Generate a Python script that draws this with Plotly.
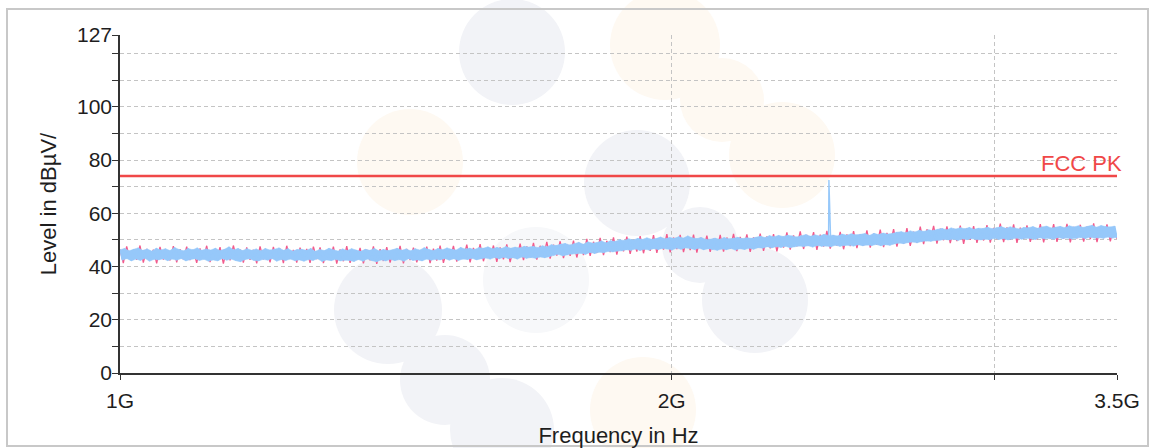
import numpy as np
import plotly.graph_objects as go

# ---------------- data ----------------
f_start, f_stop = 1e9, 3.5e9

# blue trace (dense sweep, levels in dBuV/m)
blue_levels = [
    46.3, 42.4, 46.8, 43.0, 45.9, 42.1, 46.5, 42.8, 47.0, 42.3, 46.1, 43.1, 46.6, 42.0, 45.8, 42.7, 46.9, 42.5, 46.2, 42.9,
    46.7, 42.2, 46.0, 42.8, 47.2, 42.4, 46.4, 43.0, 45.9, 42.1, 46.8, 42.6, 46.3, 42.9, 47.0, 42.3, 46.1, 42.7, 46.6, 42.0,
    46.2, 42.5, 46.9, 42.1, 46.0, 43.0, 46.5, 42.4, 47.4, 42.8, 46.3, 42.2, 46.8, 41.8, 46.0, 42.6, 46.7, 42.9, 46.1, 42.3,
    46.6, 42.1, 45.9, 42.7, 46.8, 42.4, 46.2, 43.0, 46.5, 42.0, 47.0, 42.6, 46.1, 42.3, 46.7, 42.8, 45.8, 42.2, 46.4, 42.5,
    46.5, 42.0, 46.1, 42.6, 46.8, 42.3, 45.7, 42.9, 46.4, 41.9, 46.0, 42.5, 46.9, 42.2, 46.3, 42.7, 45.8, 42.1, 46.6, 42.4,
    46.0, 42.3, 46.7, 41.9, 46.2, 42.6, 45.7, 42.0, 46.5, 42.8, 46.1, 42.2, 46.8, 41.8, 45.9, 42.5, 46.4, 42.1, 46.0, 42.7,
    46.3, 42.2, 46.9, 42.6, 46.1, 42.0, 46.6, 42.9, 45.9, 42.3, 46.7, 42.5, 46.2, 42.1, 47.1, 42.8, 46.4, 42.4, 46.0, 42.7,
    46.8, 42.5, 46.3, 43.0, 47.0, 42.4, 46.5, 42.9, 46.2, 42.3, 47.2, 42.8, 46.6, 42.6, 46.9, 43.1, 46.4, 42.5, 47.1, 42.9,
    46.9, 43.2, 47.4, 42.8, 46.7, 43.4, 47.2, 42.9, 46.8, 43.5, 47.5, 43.0, 46.9, 43.3, 47.3, 42.8, 47.0, 43.6, 47.6, 43.1,
    47.3, 43.4, 47.6, 43.1, 47.1, 43.6, 47.8, 43.3, 47.4, 43.7, 48.2, 44.2, 47.9, 44.6, 48.4, 44.0, 48.7, 44.4, 48.1, 44.7,
    48.6, 44.8, 49.1, 45.0, 48.4, 44.6, 49.3, 45.3, 48.8, 44.9, 49.0, 45.4, 49.6, 45.2, 48.9, 45.7, 49.7, 45.5, 49.4, 45.8,
    50.1, 45.9, 49.8, 46.3, 50.4, 46.1, 50.0, 46.6, 50.6, 46.0, 50.2, 46.5, 50.8, 46.2, 50.3, 46.7, 50.5, 46.4, 51.1, 46.8,
    50.4, 46.6, 50.9, 46.2, 50.6, 46.9, 51.2, 46.5, 50.7, 47.0, 51.5, 46.8, 50.8, 46.4, 50.5, 46.9, 50.9, 46.3, 50.2, 46.7,
    50.3, 46.4, 50.7, 46.1, 50.2, 46.6, 50.9, 46.3, 50.4, 46.8, 50.6, 46.2, 51.0, 46.7, 50.5, 46.4, 50.8, 46.9, 50.6, 46.5,
    51.0, 47.1, 51.4, 46.9, 50.9, 47.4, 51.6, 47.0, 51.2, 47.5, 51.7, 47.2, 51.3, 47.6, 51.8, 47.1, 51.5, 47.4, 51.1, 47.7,
    51.6, 47.5, 52.0, 47.8, 51.4, 47.3, 51.9, 47.9, 51.5, 47.6, 52.1, 47.7, 51.7, 47.4, 51.8, 48.0, 51.5, 47.6, 52.2, 47.9,
    51.8, 48.0, 52.3, 47.7, 51.9, 48.2, 52.1, 47.8, 52.4, 48.1, 51.7, 47.9, 52.5, 48.3, 52.0, 47.8, 52.6, 48.2, 52.2, 48.0,
    52.4, 48.5, 52.9, 48.8, 53.1, 48.6, 52.7, 49.0, 53.4, 49.2, 53.0, 48.9, 53.6, 49.4, 53.2, 49.6, 53.8, 49.5, 53.5, 49.8,
    54.0, 49.9, 54.3, 50.2, 53.8, 50.0, 54.5, 50.3, 54.1, 49.8, 54.6, 50.4, 54.2, 50.1, 54.7, 50.5, 54.0, 50.2, 54.4, 50.0,
    54.3, 50.3, 54.8, 50.1, 54.2, 50.6, 54.6, 50.2, 55.0, 50.5, 54.4, 50.0, 54.9, 50.4, 54.5, 50.7, 54.1, 50.3, 54.7, 50.6,
    54.6, 50.5, 55.0, 50.2, 54.4, 50.8, 54.9, 50.4, 55.2, 50.6, 54.5, 50.3, 54.8, 50.9, 55.1, 50.5, 54.6, 50.7, 55.3, 50.4,
    54.9, 50.6, 55.3, 50.9, 54.7, 50.5, 55.1, 51.0, 55.5, 50.7, 54.8, 50.8, 55.4, 50.6, 55.0, 51.1, 54.9, 50.7, 55.2, 50.9,
]

# pink trace (peak detector, shows at the edges of the blue band)
pink_levels = [
    46.4, 41.3, 47.6, 42.8, 46.1, 42.5, 47.9, 41.5, 46.6, 42.9, 46.3, 41.2, 47.4, 42.6, 46.0, 42.3, 47.7, 41.6, 46.5, 42.7,
    47.5, 42.4, 46.2, 41.4, 46.8, 42.9, 47.8, 41.7, 46.1, 42.6, 47.3, 41.1, 46.5, 42.3, 47.9, 42.8, 46.4, 41.5, 47.2, 42.5,
    46.3, 41.2, 47.6, 42.7, 46.0, 41.6, 47.4, 42.4, 46.7, 41.3, 47.8, 42.9, 46.2, 41.5, 47.1, 42.2, 46.6, 41.4, 47.5, 42.8,
    47.2, 41.3, 46.1, 42.5, 47.5, 41.1, 46.4, 42.0, 47.7, 41.4, 45.9, 42.6, 47.0, 41.2, 46.3, 42.3, 47.6, 41.0, 46.5, 42.1,
    47.3, 41.5, 46.2, 42.6, 47.8, 41.2, 46.6, 42.4, 47.1, 41.6, 46.0, 42.8, 47.5, 41.3, 46.7, 42.2, 47.9, 41.4, 46.3, 42.7,
    47.8, 41.9, 46.7, 43.1, 48.2, 41.6, 47.0, 42.8, 48.4, 42.0, 46.8, 43.2, 47.9, 41.8, 47.2, 42.7, 48.3, 41.7, 46.9, 43.0,
    48.6, 42.4, 47.6, 43.5, 48.9, 42.6, 47.8, 43.8, 49.3, 43.0, 48.2, 44.1, 49.5, 43.2, 48.3, 44.0, 49.7, 43.4, 48.5, 44.3,
    50.4, 44.0, 49.3, 45.1, 50.8, 44.3, 49.6, 45.4, 51.0, 44.5, 49.8, 45.7, 51.2, 44.8, 50.0, 45.6, 51.4, 45.0, 50.3, 45.9,
    51.8, 45.1, 50.6, 46.4, 52.2, 45.3, 50.9, 46.6, 51.9, 45.4, 50.7, 46.2, 52.0, 45.2, 50.8, 46.5, 51.6, 45.5, 50.5, 46.3,
    51.9, 45.6, 50.9, 46.7, 52.3, 45.8, 51.1, 46.9, 52.1, 45.5, 51.0, 47.0, 52.4, 45.9, 51.3, 46.8, 52.2, 45.7, 51.2, 47.1,
    52.8, 46.4, 51.7, 47.6, 53.2, 46.6, 51.9, 47.8, 52.9, 46.3, 52.0, 47.5, 53.4, 46.7, 51.8, 47.9, 53.0, 46.5, 52.1, 47.7,
    53.3, 46.9, 52.2, 48.0, 53.6, 47.1, 52.4, 48.2, 53.9, 47.3, 52.6, 48.4, 54.1, 47.5, 52.9, 48.6, 54.4, 47.8, 53.1, 48.9,
    55.0, 48.4, 54.0, 49.7, 55.3, 48.6, 54.2, 49.9, 55.1, 48.8, 54.1, 49.6, 55.4, 48.5, 54.3, 50.0, 55.2, 48.9, 54.0, 49.8,
    55.6, 49.0, 54.5, 50.3, 56.1, 49.2, 54.7, 50.1, 55.8, 48.9, 54.6, 50.4, 55.5, 49.3, 54.8, 50.2, 55.9, 49.1, 54.6, 50.5,
    55.9, 49.3, 54.8, 50.5, 56.0, 49.1, 54.9, 50.6, 55.7, 49.4, 55.0, 50.3, 56.2, 49.2, 54.7, 50.7, 55.8, 49.5, 54.9, 50.4,
]

spike_freq = [2.437e9]
spike_level = [72.5]

limit_freq = [1e9, 3.5e9]
limit_level = [74, 74]
limit_name = "FCC PK"

x_tick_vals = [1e9, 2e9, 3e9, 3.5e9]
x_tick_text = ["1G", "2G", "", "3.5G"]
y_tick_vals = [0, 10, 20, 30, 40, 50, 60, 70, 80, 90, 100, 110, 120, 127]
y_tick_text = ["0", "", "20", "", "40", "", "60", "", "80", "", "100", "", "", "127"]

# ---------------- styling ----------------
BLUE = "#96c8fa"
PINK = "#f25a8c"
RED = "#f04848"
GRID = "#c4c4c4"
AXIS = "#333333"
TXT = "#1e1e1e"
FONT = "Liberation Sans, Arial, sans-serif"

# plot area in pixels (for decorative watermark placement)
L, R, T, B = 120, 1117, 35, 373


def paper(px, py):
    return (px - L) / (R - L), (B - py) / (B - T)


blue_freq = np.geomspace(f_start, f_stop, len(blue_levels))
pink_freq = np.geomspace(f_start, f_stop, len(pink_levels))
blue_arr = np.asarray(blue_levels)

bf = np.concatenate([blue_freq, spike_freq])
bl = np.concatenate([blue_arr, spike_level])
order = np.argsort(bf)
bf, bl = bf[order], bl[order]

fig = go.Figure()
# pink detector trace (underneath)
fig.add_trace(go.Scatter(x=pink_freq, y=pink_levels, mode="lines",
                         line=dict(color=PINK, width=1.3, simplify=False),
                         showlegend=False, hoverinfo="skip"))
# blue trace: body of the band (its minima and maxima), then the trace itself
fig.add_trace(go.Scatter(x=blue_freq[1::2], y=blue_arr[1::2], mode="lines",
                         line=dict(color=BLUE, width=0.5, simplify=False),
                         showlegend=False, hoverinfo="skip"))
fig.add_trace(go.Scatter(x=blue_freq[0::2], y=blue_arr[0::2], mode="lines",
                         line=dict(color=BLUE, width=0.5, simplify=False),
                         fill="tonexty", fillcolor=BLUE,
                         showlegend=False, hoverinfo="skip"))
fig.add_trace(go.Scatter(x=bf, y=bl, mode="lines",
                         line=dict(color=BLUE, width=1.4, simplify=False),
                         showlegend=False, hoverinfo="skip"))
# limit line
fig.add_trace(go.Scatter(x=limit_freq, y=limit_level, mode="lines",
                         line=dict(color=RED, width=2.5), showlegend=False, hoverinfo="skip"))

fig.add_annotation(x=np.log10(limit_freq[-1]), y=limit_level[-1], text=limit_name,
                   showarrow=False, xanchor="right", yanchor="bottom", xshift=7, yshift=-2,
                   font=dict(family=FONT, size=22, color=RED))

# faint watermark blobs + outer frame
shapes = []
gray = "rgb(242,243,247)"
gray2 = "rgb(247,248,250)"
orange = "rgb(254,249,242)"
blobs = [
    (512, 52, 53, gray), (637, 183, 53, gray), (700, 245, 38, gray), (755, 300, 53, gray),
    (388, 310, 54, gray), (445, 380, 45, gray), (502, 430, 52, gray), (536, 280, 53, gray2),
    (665, 45, 55, orange), (722, 100, 42, orange), (782, 155, 53, orange),
    (410, 162, 53, orange), (643, 410, 53, orange),
]
for cx, cy, r, col in blobs:
    x0, y0 = paper(cx - r, cy + r)
    x1, y1 = paper(cx + r, cy - r)
    shapes.append(dict(type="circle", xref="paper", yref="paper", x0=x0, y0=y0, x1=x1, y1=y1,
                       fillcolor=col, line=dict(width=0), layer="below"))
fx0, fy0 = paper(7, 446)
fx1, fy1 = paper(1148, 9)
shapes.append(dict(type="rect", xref="paper", yref="paper", x0=fx0, y0=fy0, x1=fx1, y1=fy1,
                   line=dict(color="#c8c8c8", width=2), fillcolor="rgba(0,0,0,0)", layer="below"))

fig.update_layout(
    width=1150, height=448, autosize=False,
    margin=dict(l=L, r=1150 - R, t=T, b=448 - B),
    paper_bgcolor="white", plot_bgcolor="white",
    font=dict(family=FONT, size=21, color=TXT),
    shapes=shapes,
    showlegend=False,
)
fig.update_xaxes(
    type="log", range=[np.log10(f_start), np.log10(f_stop)],
    tickmode="array", tickvals=x_tick_vals, ticktext=x_tick_text,
    showgrid=True, gridcolor=GRID, griddash="4px,3px", gridwidth=1,
    showline=True, linecolor=AXIS, linewidth=1.5,
    ticks="outside", ticklen=5, tickcolor=AXIS, tickwidth=1.2,
    ticklabelstandoff=3,
    tickfont=dict(size=21, color=TXT),
    title=dict(text="Frequency in Hz", font=dict(size=22, color=TXT), standoff=17),
    zeroline=False, automargin=False,
)
fig.update_yaxes(
    range=[0, 127],
    tickmode="array", tickvals=y_tick_vals, ticktext=y_tick_text,
    showgrid=True, gridcolor=GRID, griddash="4px,3px", gridwidth=1,
    showline=True, linecolor=AXIS, linewidth=1.5,
    ticks="outside", ticklen=6, tickcolor=AXIS, tickwidth=1.2,
    ticklabelstandoff=-4,
    tickfont=dict(size=21, color=TXT),
    title=dict(text="Level in dBµV/", font=dict(size=22, color=TXT), standoff=14),
    zeroline=False, automargin=False,
)

fig.write_html("out.html", config={"displayModeBar": False},
               post_script="document.body.style.margin='0';")
